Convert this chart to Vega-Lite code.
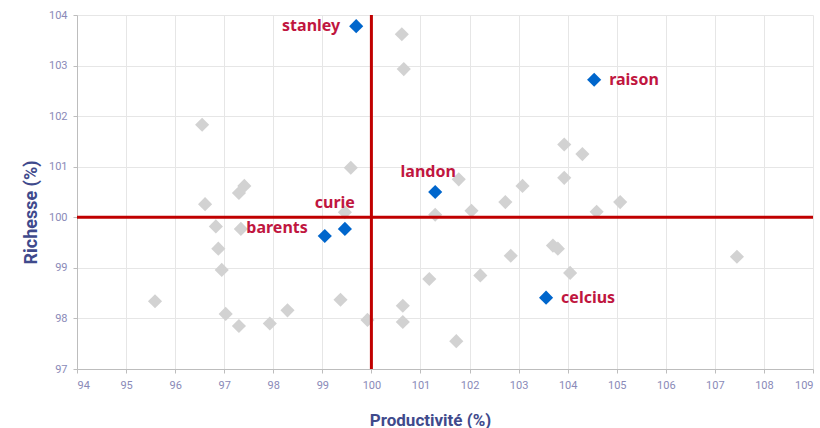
{
  "$schema": "https://vega.github.io/schema/vega-lite/v6.json",
  "width": 736,
  "height": 354,
  "autosize": {"type": "none"},
  "padding": {"left": 77, "top": 15, "right": 7, "bottom": 59},
  "background": "white",
  "config": {
    "view": {"stroke": null},
    "axis": {
      "domainColor": "#bdbdbd",
      "tickColor": "#bdbdbd",
      "gridColor": "#e6e6e6",
      "labelColor": "#8a8ab8",
      "labelFont": "Liberation Sans Narrow, Roboto, sans-serif",
      "labelFontSize": 11,
      "titleColor": "#3f4a8c",
      "titleFont": "Liberation Sans Narrow, Roboto, sans-serif",
      "titleFontSize": 17,
      "titleFontWeight": "bold",
      "tickSize": 4
    }
  },
  "datasets": {
    "pts": [
      {"name": "stanley", "x": 99.69, "y": 103.78, "g": "focus"},
      {"name": "raison", "x": 104.54, "y": 102.72, "g": "focus"},
      {"name": "landon", "x": 101.3, "y": 100.5, "g": "focus"},
      {"name": "curie", "x": 99.46, "y": 99.77, "g": "focus"},
      {"name": "barents", "x": 99.05, "y": 99.63, "g": "focus"},
      {"name": "celcius", "x": 103.56, "y": 98.41, "g": "focus"},
      {"name": "", "x": 100.62, "y": 103.62, "g": "other"},
      {"name": "", "x": 100.66, "y": 102.93, "g": "other"},
      {"name": "", "x": 96.55, "y": 101.83, "g": "other"},
      {"name": "", "x": 99.58, "y": 100.98, "g": "other"},
      {"name": "", "x": 97.41, "y": 100.62, "g": "other"},
      {"name": "", "x": 97.3, "y": 100.48, "g": "other"},
      {"name": "", "x": 96.61, "y": 100.26, "g": "other"},
      {"name": "", "x": 99.46, "y": 100.1, "g": "other"},
      {"name": "", "x": 96.83, "y": 99.82, "g": "other"},
      {"name": "", "x": 97.34, "y": 99.77, "g": "other"},
      {"name": "", "x": 96.88, "y": 99.38, "g": "other"},
      {"name": "", "x": 96.95, "y": 98.96, "g": "other"},
      {"name": "", "x": 95.59, "y": 98.34, "g": "other"},
      {"name": "", "x": 97.03, "y": 98.09, "g": "other"},
      {"name": "", "x": 97.3, "y": 97.85, "g": "other"},
      {"name": "", "x": 97.93, "y": 97.9, "g": "other"},
      {"name": "", "x": 98.29, "y": 98.16, "g": "other"},
      {"name": "", "x": 99.37, "y": 98.37, "g": "other"},
      {"name": "", "x": 99.92, "y": 97.97, "g": "other"},
      {"name": "", "x": 100.64, "y": 98.25, "g": "other"},
      {"name": "", "x": 100.64, "y": 97.93, "g": "other"},
      {"name": "", "x": 101.3, "y": 100.05, "g": "other"},
      {"name": "", "x": 101.78, "y": 100.75, "g": "other"},
      {"name": "", "x": 102.73, "y": 100.3, "g": "other"},
      {"name": "", "x": 103.08, "y": 100.62, "g": "other"},
      {"name": "", "x": 102.04, "y": 100.13, "g": "other"},
      {"name": "", "x": 103.93, "y": 101.44, "g": "other"},
      {"name": "", "x": 104.3, "y": 101.25, "g": "other"},
      {"name": "", "x": 103.93, "y": 100.78, "g": "other"},
      {"name": "", "x": 104.59, "y": 100.11, "g": "other"},
      {"name": "", "x": 105.07, "y": 100.3, "g": "other"},
      {"name": "", "x": 102.84, "y": 99.24, "g": "other"},
      {"name": "", "x": 103.7, "y": 99.44, "g": "other"},
      {"name": "", "x": 103.8, "y": 99.38, "g": "other"},
      {"name": "", "x": 104.05, "y": 98.9, "g": "other"},
      {"name": "", "x": 107.45, "y": 99.22, "g": "other"},
      {"name": "", "x": 101.18, "y": 98.78, "g": "other"},
      {"name": "", "x": 102.22, "y": 98.85, "g": "other"},
      {"name": "", "x": 101.73, "y": 97.55, "g": "other"}
    ]
  },
  "data": {"name": "pts"},
  "encoding": {
    "x": {
      "field": "x", "type": "quantitative",
      "scale": {"domain": [94, 109], "nice": false, "zero": false},
      "axis": {"values": [94,95,96,97,98,99,100,101,102,103,104,105,106,107,108,109], "title": "Productivité (%)", "labelPadding": 6, "titlePadding": 22, "titleX": 353}
    },
    "y": {
      "field": "y", "type": "quantitative",
      "scale": {"domain": [97, 104], "nice": false, "zero": false},
      "axis": {"values": [97,98,99,100,101,102,103,104], "title": "Richesse (%)", "labelPadding": 6, "titlePadding": 8, "titleY": 197, "titleFontSize": 18}
    }
  },
  "layer": [
    {
      "transform": [{"filter": "datum.g === 'other'"}],
      "mark": {"type": "point", "shape": "diamond", "filled": true, "size": 200, "color": "#d2d2d2", "opacity": 1}
    },
    {
      "data": {"values": [{"v": 100}]},
      "mark": {"type": "rule", "color": "#c00000", "strokeWidth": 3},
      "encoding": {"x": {"field": "v", "type": "quantitative"}, "y": null}
    },
    {
      "data": {"values": [{"v": 100}]},
      "mark": {"type": "rule", "color": "#c00000", "strokeWidth": 3},
      "encoding": {"y": {"field": "v", "type": "quantitative"}, "x": null}
    },
    {
      "transform": [{"filter": "datum.g === 'focus'"}],
      "mark": {"type": "point", "shape": "diamond", "filled": true, "size": 200, "color": "#0066cc", "opacity": 1}
    },
    {
      "transform": [{"filter": "datum.name === 'raison' || datum.name === 'celcius'"}],
      "mark": {"type": "text", "align": "left", "baseline": "middle", "dx": 15, "dy": 0, "font": "Noto Sans", "fontWeight": "bold", "fontSize": 16, "color": "#c0163f"},
      "encoding": {"text": {"field": "name"}}
    },
    {
      "transform": [{"filter": "datum.name === 'stanley'"}],
      "mark": {"type": "text", "align": "right", "baseline": "middle", "dx": -16, "dy": 0, "font": "Noto Sans", "fontWeight": "bold", "fontSize": 16, "color": "#c0163f"},
      "encoding": {"text": {"field": "name"}}
    },
    {
      "transform": [{"filter": "datum.name === 'barents'"}],
      "mark": {"type": "text", "align": "right", "baseline": "middle", "dx": -17, "dy": -8, "font": "Noto Sans", "fontWeight": "bold", "fontSize": 16, "color": "#c0163f"},
      "encoding": {"text": {"field": "name"}}
    },
    {
      "transform": [{"filter": "datum.name === 'landon'"}],
      "mark": {"type": "text", "align": "center", "baseline": "middle", "dx": -7, "dy": -20, "font": "Noto Sans", "fontWeight": "bold", "fontSize": 16, "color": "#c0163f"},
      "encoding": {"text": {"field": "name"}}
    },
    {
      "transform": [{"filter": "datum.name === 'curie'"}],
      "mark": {"type": "text", "align": "right", "baseline": "middle", "dx": 10, "dy": -26, "font": "Noto Sans", "fontWeight": "bold", "fontSize": 16, "color": "#c0163f"},
      "encoding": {"text": {"field": "name"}}
    }
  ]
}
